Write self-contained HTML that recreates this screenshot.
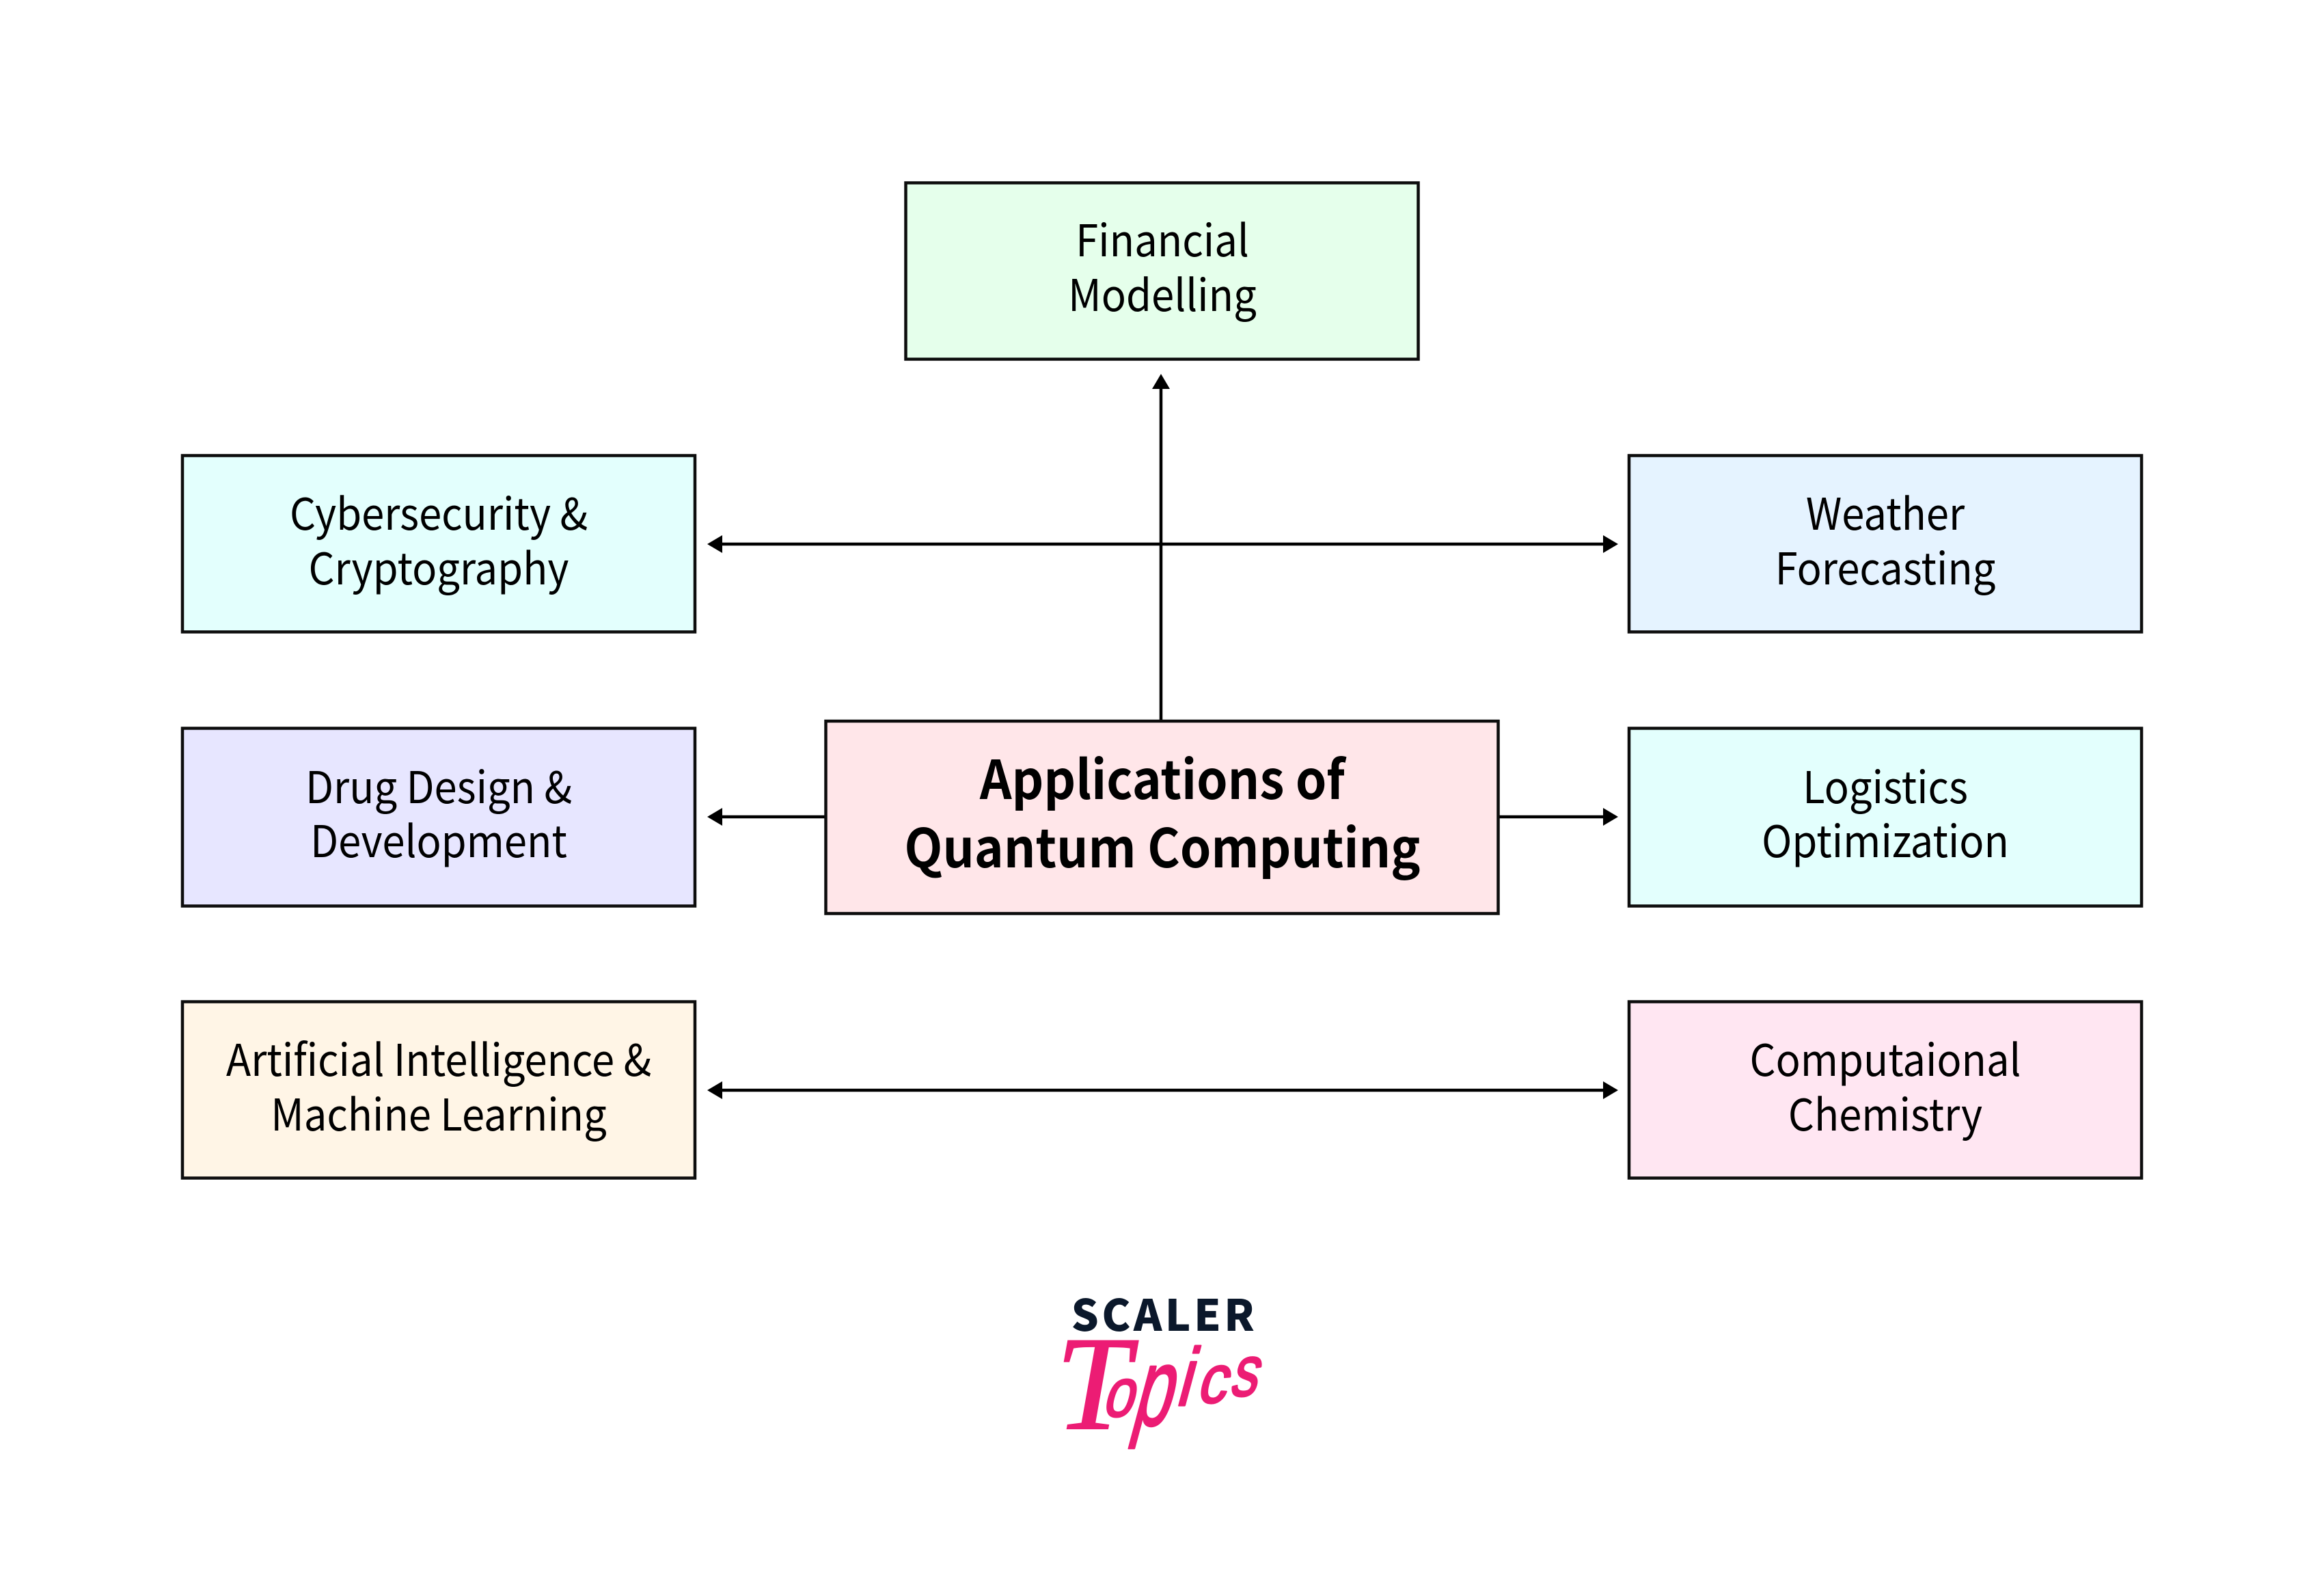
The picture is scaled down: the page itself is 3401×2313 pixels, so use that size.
<!DOCTYPE html>
<html lang="en">
<head>
<meta charset="utf-8">
<title>Applications of Quantum Computing</title>
<style>
html,body{margin:0;padding:0;background:#fff;}
svg{display:block;}
.n{font-family:"Noto Sans CJK JP","Liberation Sans",sans-serif;font-size:64px;fill:#000;text-anchor:middle;font-weight:400;}
.b{font-family:"Noto Sans CJK JP","Liberation Sans",sans-serif;font-size:78px;fill:#000;text-anchor:middle;font-weight:700;}
rect{stroke:#0d0d0d;stroke-width:4.5px;}
line{stroke:#000;stroke-width:4.5px;}
.s{font-family:"Liberation Sans",sans-serif;fill:#ec1c74;stroke:#ec1c74;stroke-width:3px;stroke-linejoin:round;}
</style>
</head>
<body>
<svg width="3401" height="2313" viewBox="0 0 3401 2313" xmlns="http://www.w3.org/2000/svg">
<rect x="0" y="0" width="3401" height="2313" style="fill:#fff;stroke:none"/>

<!-- connectors -->
<line x1="1699" y1="1054" x2="1699" y2="565"/>
<polygon points="1699,547 1686,569 1712,569" fill="#000"/>

<line x1="1050" y1="796" x2="2352" y2="796"/>
<polygon points="1035,796 1057,783 1057,809" fill="#000"/>
<polygon points="2368,796 2346,783 2346,809" fill="#000"/>

<line x1="1050" y1="1195" x2="1208" y2="1195"/>
<polygon points="1035,1195 1057,1182 1057,1208" fill="#000"/>
<line x1="2193" y1="1195" x2="2352" y2="1195"/>
<polygon points="2368,1195 2346,1182 2346,1208" fill="#000"/>

<line x1="1050" y1="1595" x2="2352" y2="1595"/>
<polygon points="1035,1595 1057,1582 1057,1608" fill="#000"/>
<polygon points="2368,1595 2346,1582 2346,1608" fill="#000"/>

<!-- boxes -->
<rect x="1325.5" y="267.5" width="750" height="258" fill="#e5ffeb"/>
<rect x="267" y="666.5" width="750" height="258" fill="#e3fffd"/>
<rect x="2384" y="666.5" width="750" height="258" fill="#e5f3ff"/>
<rect x="267" y="1065.5" width="750" height="260" fill="#e7e6ff"/>
<rect x="2384" y="1065.5" width="750" height="260" fill="#e3fffd"/>
<rect x="267" y="1465.5" width="750" height="258" fill="#fff5e6"/>
<rect x="2384" y="1465.5" width="750" height="258" fill="#ffe6f2"/>
<rect x="1208.5" y="1055" width="984" height="281.5" fill="#ffe6e9"/>

<!-- labels -->
<text class="n" transform="translate(1701,375) scale(.935,1)">Financial</text>
<text class="n" transform="translate(1701,455) scale(.935,1)">Modelling</text>

<text class="n" transform="translate(642,775) scale(.933,1)">Cybersecurity &amp;</text>
<text class="n" transform="translate(642,855) scale(.933,1)">Cryptography</text>

<text class="n" transform="translate(2759,775) scale(.933,1)">Weather</text>
<text class="n" transform="translate(2759,855) scale(.933,1)">Forecasting</text>

<text class="n" transform="translate(642,1175) scale(.933,1)">Drug Design &amp;</text>
<text class="n" transform="translate(642,1254) scale(.933,1)">Development</text>

<text class="n" transform="translate(2759,1175) scale(.933,1)">Logistics</text>
<text class="n" transform="translate(2759,1254) scale(.933,1)">Optimization</text>

<text class="n" transform="translate(642,1574) scale(.933,1)">Artificial Intelligence &amp;</text>
<text class="n" transform="translate(642,1654) scale(.933,1)">Machine Learning</text>

<text class="n" transform="translate(2759,1574) scale(.933,1)">Computaional</text>
<text class="n" transform="translate(2759,1654) scale(.933,1)">Chemistry</text>

<text class="b" transform="translate(1701,1169) scale(.933,1)">Applications of</text>
<text class="b" transform="translate(1701,1269) scale(.933,1)">Quantum Computing</text>

<!-- logo -->
<text x="1704" y="1947" text-anchor="middle" font-family="'Noto Sans CJK JP','Liberation Sans',sans-serif" font-weight="900" font-size="63" letter-spacing="4.5" fill="#0b182b">SCALER</text>
<text transform="translate(1545,2090)" font-family="'Liberation Serif',serif" font-style="italic" font-size="196" fill="#ec1c74" stroke="#ec1c74" stroke-width="2">T</text>
<text class="s" transform="translate(1612,2072) skewX(-15) scale(.8,1)" font-size="100">o</text>
<text class="s" transform="translate(1654,2085) skewX(-15) scale(.66,1.08)" font-size="150">p</text>
<text class="s" transform="translate(1719,2056) skewX(-15) scale(.8,1)" font-size="120">i</text>
<text class="s" transform="translate(1750,2052) skewX(-15) scale(.85,1)" font-size="100">c</text>
<text class="s" transform="translate(1798,2042) skewX(-15) scale(.75,1)" font-size="105">s</text>
</svg>
</body>
</html>
